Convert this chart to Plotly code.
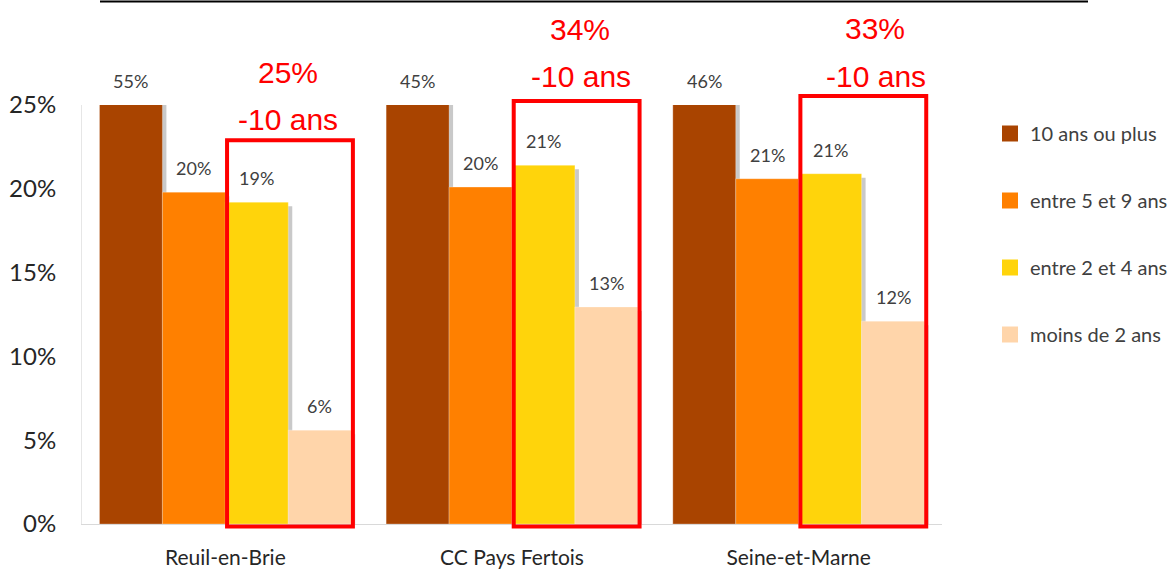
import plotly.graph_objects as go

# ---------------- data ----------------
categories = ["Reuil-en-Brie", "CC Pays Fertois", "Seine-et-Marne"]
series_names = ["10 ans ou plus", "entre 5 et 9 ans", "entre 2 et 4 ans", "moins de 2 ans"]
val_10_plus = [55, 45, 46]
val_5_9 = [19.8, 20.1, 20.6]
val_2_4 = [19.2, 21.4, 20.9]
val_lt_2 = [5.6, 12.95, 12.1]
y_tick_values = [0, 5, 10, 15, 20, 25]
y_tick_labels = ["0%", "5%", "10%", "15%", "20%", "25%"]

series_values = [val_10_plus, val_5_9, val_2_4, val_lt_2]
under_10 = [a + b for a, b in zip(val_2_4, val_lt_2)]

# ---------------- style ----------------
colors = ["#A94400", "#FF8000", "#FFD40B", "#FFD5AA"]
W, H = 1170, 570
L, R, T, B = 82, 228, 105, 46
PW, PH = W - L - R, H - T - B
YMAX = 25
BAR_W = 0.2195
GROUP_START = -0.439
FONT = "Lato"
RED = "#FF0000"


def px_x(px):
    return (px - L) / PW


def px_y(py):
    return (H - B - py) / PH


unit_px = PW / 3.0
shadow_dx = 4 / unit_px
shadow_dy = 4 * YMAX / PH

fig = go.Figure()

# shadows
for j, vals in enumerate(series_values):
    fig.add_trace(go.Bar(
        x=list(range(len(categories))), y=vals,
        base=-shadow_dy,
        width=BAR_W, offset=GROUP_START + j * BAR_W + shadow_dx,
        marker=dict(color="#C9C9C9", line=dict(width=0)),
        showlegend=False, hoverinfo="skip",
    ))

# bars
for j, (name, vals) in enumerate(zip(series_names, series_values)):
    fig.add_trace(go.Bar(
        x=list(range(len(categories))), y=vals, name=name,
        width=BAR_W, offset=GROUP_START + j * BAR_W,
        marker=dict(color=colors[j], line=dict(width=0.6, color="rgba(255,255,255,0.45)")),
        showlegend=False,
    ))

# legend entries
for j, name in enumerate(series_names):
    fig.add_trace(go.Scatter(
        x=[None], y=[None], mode="markers", name=name,
        marker=dict(symbol="square", size=16, color=colors[j]),
        legendgroup=name, showlegend=True,
    ))

annotations = []
# data labels
for j, vals in enumerate(series_values):
    for i, v in enumerate(vals):
        annotations.append(dict(
            x=i + GROUP_START + (j + 0.5) * BAR_W, xref="x",
            y=min(v, YMAX), yref="y",
            text=f"{v:.0f}%", showarrow=False,
            xanchor="center", yanchor="bottom", yshift=11,
            font=dict(family=FONT, size=18, color="#404040"),
        ))

# red highlight text
red_text_pos = [(288, 72, 288, 120), (580, 29, 581, 77), (875, 28, 876, 77)]
for i, s in enumerate(under_10):
    x1, y1, x2, y2 = red_text_pos[i]
    annotations.append(dict(x=px_x(x1), y=px_y(y1), xref="paper", yref="paper",
                            xanchor="center", yanchor="middle",
                            text=f"{s:.0f}%", showarrow=False,
                            font=dict(family="Liberation Sans", size=30, color=RED)))
    annotations.append(dict(x=px_x(x2), y=px_y(y2), xref="paper", yref="paper",
                            xanchor="center", yanchor="middle",
                            text="-10 ans", showarrow=False,
                            font=dict(family="Liberation Sans", size=30, color=RED)))

shapes = []
box_tops = [22.9, 25.24, 25.54]
for i in range(len(categories)):
    x0 = i + GROUP_START + 2 * BAR_W + 0.006
    x1 = i + GROUP_START + 4 * BAR_W + 0.006
    shapes.append(dict(type="rect", xref="paper", yref="paper",
                       x0=(x0 + 0.5) / 3, x1=(x1 + 0.5) / 3,
                       y0=-0.15 / YMAX, y1=box_tops[i] / YMAX,
                       line=dict(color=RED, width=4), layer="above"))

# top black line (clipped title underline)
shapes.append(dict(type="line", xref="paper", yref="paper",
                   x0=px_x(100), x1=px_x(1088), y0=px_y(1.5), y1=px_y(1.5),
                   line=dict(color="#000000", width=2)))

fig.update_layout(
    width=W, height=H,
    margin=dict(l=L, r=R, t=T, b=B, pad=0, autoexpand=False),
    paper_bgcolor="white", plot_bgcolor="white",
    barmode="overlay",
    font=dict(family=FONT, color="#262626"),
    xaxis=dict(range=[-0.5, 2.5], tickmode="array",
               tickvals=list(range(len(categories))), ticktext=categories,
               showgrid=False, zeroline=False, showline=True, linecolor="#D9D9D9", linewidth=1,
               ticks="", tickfont=dict(family=FONT, size=21, color="#262626"),
               ticklabelstandoff=15, automargin=False),
    yaxis=dict(range=[0, YMAX], tickmode="array", tickvals=y_tick_values, ticktext=y_tick_labels,
               showgrid=False, zeroline=False, showline=True, linecolor="#E6E6E6", linewidth=1,
               ticks="", tickfont=dict(family=FONT, size=24, color="#262626"),
               ticklabelstandoff=20, automargin=False),
    legend=dict(x=px_x(990), xanchor="left", y=px_y(114), yanchor="top",
                tracegroupgap=38, font=dict(family=FONT, size=20, color="#404040"),
                bgcolor="rgba(0,0,0,0)", traceorder="grouped"),
    annotations=annotations,
    shapes=shapes,
)

fig.write_html("out.html")
